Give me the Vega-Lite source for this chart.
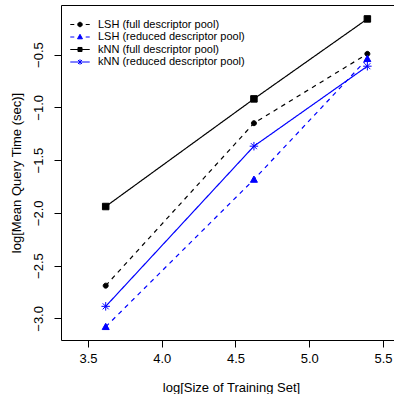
{
  "$schema": "https://vega.github.io/schema/vega-lite/v6.json",
  "width": 340,
  "height": 335,
  "autosize": {"type": "none"},
  "padding": {"left": 61, "top": 5, "right": 0, "bottom": 54},
  "background": "white",
  "config": {
    "view": {"stroke": "black", "strokeWidth": 1},
    "font": "Liberation Sans",
    "axis": {
      "grid": false,
      "domain": false,
      "tickColor": "black",
      "tickSize": 7,
      "tickWidth": 1,
      "labelColor": "black",
      "labelFont": "Liberation Sans",
      "labelFontSize": 13,
      "titleFont": "Liberation Sans",
      "titleFontSize": 13,
      "titleFontWeight": "normal",
      "titleColor": "black"
    },
    "legend": {
      "orient": "none",
      "legendX": 13.5,
      "legendY": 14,
      "symbolSize": 81,
      "symbolStrokeWidth": 1,
      "labelFont": "Liberation Sans",
      "labelFontSize": 11,
      "labelColor": "black",
      "labelOffset": 12.5,
      "rowPadding": 0.5,
      "padding": 0
    }
  },
  "data": {
    "values": [
      {"series": "LSH (full descriptor pool)", "x": 3.62, "y": -2.69},
      {"series": "LSH (full descriptor pool)", "x": 4.625, "y": -1.15},
      {"series": "LSH (full descriptor pool)", "x": 5.394, "y": -0.493},
      {"series": "LSH (reduced descriptor pool)", "x": 3.62, "y": -3.08},
      {"series": "LSH (reduced descriptor pool)", "x": 4.625, "y": -1.684},
      {"series": "LSH (reduced descriptor pool)", "x": 5.394, "y": -0.54},
      {"series": "kNN (full descriptor pool)", "x": 3.62, "y": -1.94},
      {"series": "kNN (full descriptor pool)", "x": 4.625, "y": -0.92},
      {"series": "kNN (full descriptor pool)", "x": 5.394, "y": -0.162},
      {"series": "kNN (reduced descriptor pool)", "x": 3.62, "y": -2.886},
      {"series": "kNN (reduced descriptor pool)", "x": 4.625, "y": -1.368},
      {"series": "kNN (reduced descriptor pool)", "x": 5.394, "y": -0.61}
    ]
  },
  "layer": [
    {
      "mark": {"type": "line", "strokeWidth": 1.2},
      "encoding": {
        "x": {
          "field": "x", "type": "quantitative",
          "scale": {"domain": [3.317, 5.622], "nice": false, "zero": false},
          "axis": {"values": [3.5, 4, 4.5, 5, 5.5], "format": ".1f", "title": "log[Size of Training Set]", "labelPadding": 5, "titlePadding": 16}
        },
        "y": {
          "field": "y", "type": "quantitative",
          "scale": {"domain": [-3.205, -0.03], "nice": false, "zero": false},
          "axis": {"values": [-3, -2.5, -2, -1.5, -1, -0.5], "format": ".1f", "title": "log[Mean Query Time (sec)]", "labelAngle": 270, "labelAlign": "center", "labelBaseline": "bottom", "labelPadding": 9, "titlePadding": 9}
        },
        "color": {
          "field": "series", "type": "nominal",
          "scale": {"domain": ["LSH (full descriptor pool)", "LSH (reduced descriptor pool)", "kNN (full descriptor pool)", "kNN (reduced descriptor pool)"], "range": ["#000000", "#0000FF", "#000000", "#0000FF"]},
          "legend": null
        },
        "strokeDash": {
          "field": "series", "type": "nominal",
          "scale": {"domain": ["LSH (full descriptor pool)", "LSH (reduced descriptor pool)", "kNN (full descriptor pool)", "kNN (reduced descriptor pool)"], "range": [[4.5, 4.5], [4.5, 4.5], [1, 0], [1, 0]]},
          "legend": null
        }
      }
    },
    {
      "mark": {"type": "point", "filled": true, "opacity": 1, "size": 100, "strokeWidth": 1},
      "encoding": {
        "x": {"field": "x", "type": "quantitative", "scale": {"domain": [3.317, 5.622], "nice": false, "zero": false}},
        "y": {"field": "y", "type": "quantitative", "scale": {"domain": [-3.205, -0.03], "nice": false, "zero": false}},
        "fill": {
          "field": "series", "type": "nominal",
          "scale": {"domain": ["LSH (full descriptor pool)", "LSH (reduced descriptor pool)", "kNN (full descriptor pool)", "kNN (reduced descriptor pool)"], "range": ["#000000", "#0000FF", "#000000", "#0000FF"]},
          "legend": null
        },
        "stroke": {
          "field": "series", "type": "nominal",
          "scale": {"domain": ["LSH (full descriptor pool)", "LSH (reduced descriptor pool)", "kNN (full descriptor pool)", "kNN (reduced descriptor pool)"], "range": ["#000000", "#0000FF", "#000000", "#0000FF"]},
          "legend": null
        },
        "shape": {
          "field": "series", "type": "nominal",
          "scale": {"domain": ["LSH (full descriptor pool)", "LSH (reduced descriptor pool)", "kNN (full descriptor pool)", "kNN (reduced descriptor pool)"], "range": ["M0.5,0A0.5,0.5,0,1,1,-0.5,0A0.5,0.5,0,1,1,0.5,0Z", "M0,-0.7L0.7,0.55L-0.7,0.55Z", "M-0.65,-0.65H0.65V0.65H-0.65Z", "M-0.85,0H0.85M0,-0.85V0.85M-0.6,-0.6L0.6,0.6M-0.6,0.6L0.6,-0.6"]},
          "legend": null
        }
      }
    },
    {
      "transform": [{"filter": "false"}],
      "mark": {"type": "point", "filled": true, "opacity": 1, "strokeWidth": 1},
      "encoding": {
        "fill": {
          "field": "series", "type": "nominal",
          "scale": {"domain": ["LSH (full descriptor pool)", "LSH (reduced descriptor pool)", "kNN (full descriptor pool)", "kNN (reduced descriptor pool)"], "range": ["#000000", "#0000FF", "#000000", "#0000FF"]},
          "legend": {"title": null}
        },
        "stroke": {
          "field": "series", "type": "nominal",
          "scale": {"domain": ["LSH (full descriptor pool)", "LSH (reduced descriptor pool)", "kNN (full descriptor pool)", "kNN (reduced descriptor pool)"], "range": ["#000000", "#0000FF", "#000000", "#0000FF"]},
          "legend": {"title": null}
        },
        "shape": {
          "field": "series", "type": "nominal",
          "scale": {"domain": ["LSH (full descriptor pool)", "LSH (reduced descriptor pool)", "kNN (full descriptor pool)", "kNN (reduced descriptor pool)"], "range": ["M-2.16,0H-1.27M1.27,0H2.16M0.5,0A0.5,0.5,0,1,1,-0.5,0A0.5,0.5,0,1,1,0.5,0Z", "M-2.16,0H-1.27M1.27,0H2.16M0,-0.6L0.55,0.4L-0.55,0.4Z", "M-2.16,0H2.16M-0.45,-0.45H0.45V0.45H-0.45Z", "M-2.16,0H2.16M0,-0.6V0.6M-0.45,-0.45L0.45,0.45M-0.45,0.45L0.45,-0.45"]},
          "legend": {"title": null}
        }
      }
    }
  ],
  "resolve": {
    "scale": {"color": "independent", "fill": "independent", "stroke": "independent", "shape": "independent", "strokeDash": "independent"},
    "legend": {"color": "independent", "fill": "independent", "stroke": "independent", "shape": "independent", "strokeDash": "independent"}
  }
}
